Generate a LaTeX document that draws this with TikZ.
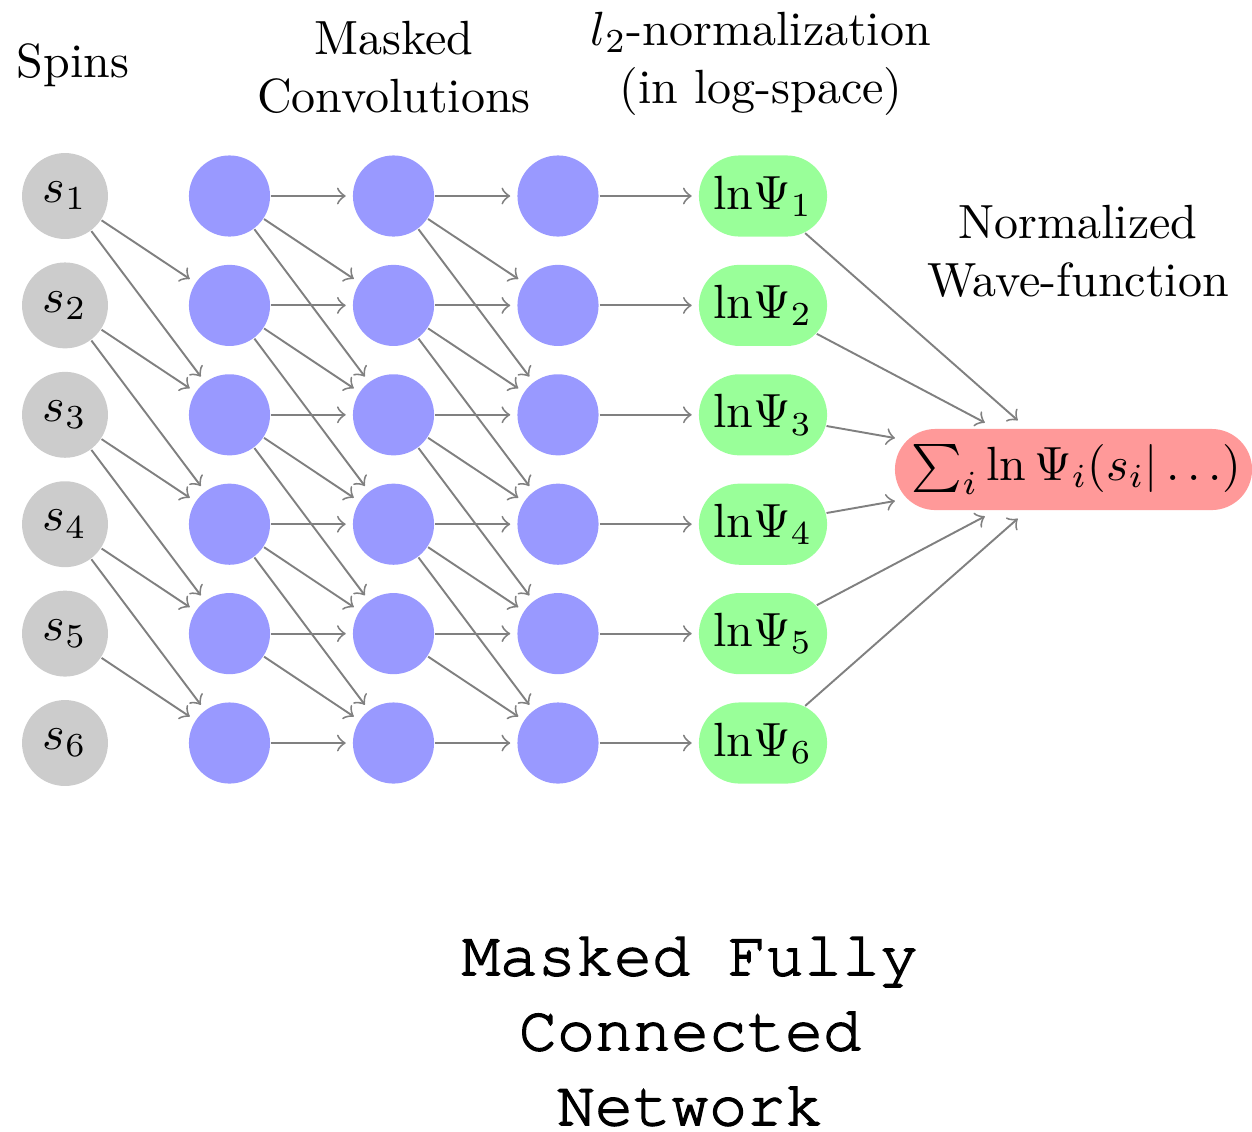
\documentclass[tikz,border=0pt]{standalone}
\usepackage[T1]{fontenc}
\usepackage{fontspec}
\usetikzlibrary{shapes.misc}
\definecolor{spingray}{HTML}{CCCCCC}
\definecolor{hidblue}{HTML}{9999FF}
\definecolor{normgreen}{HTML}{99FF99}
\definecolor{sumred}{HTML}{FF9999}
\newcommand{\courierface}{\fontencoding{T1}\fontfamily{pcr}\fontseries{m}\fontshape{n}\fontsize{13.2}{15.6}\selectfont}
% slightly heavier glyphs: fill and stroke the outlines
\newcommand{\heavyon}{\special{pdf:literal direct 0 0 0 RG 0.3 w 2 Tr}}
\newcommand{\heavyoff}{\special{pdf:literal direct 0 Tr}}
\begin{document}
\begin{tikzpicture}[x=0.208333pt,y=-0.208333pt,
  spin/.style={circle,fill=spingray,minimum size=17.9pt,inner sep=0pt},
  hidden/.style={circle,fill=hidblue,minimum size=16.9pt,inner sep=0pt},
  lognode/.style={rounded rectangle,fill=normgreen,minimum width=26.7pt,minimum height=16.9pt,inner sep=0pt},
  sumnode/.style={rounded rectangle,fill=sumred,minimum width=74.4pt,minimum height=16.9pt,inner sep=0pt},
  conn/.style={->,gray,shorten >=1.3pt},
  outconn/.style={->,gray,shorten >=2.4pt},
  caption/.style={align=center,inner sep=0pt,anchor=base}
]
\useasboundingbox (0,0) rectangle (1252,1131);

% layers: spins, three masked layers, per-site log amplitudes
\foreach \i in {1,...,6} {
  \pgfmathsetmacro\yy{196+109.4*(\i-1)}
  \node[spin] (s\i) at (65,\yy) {$s_{\i}$};
  \node[hidden] (a\i) at (229.5,\yy) {};
  \node[hidden] (b\i) at (393.5,\yy) {};
  \node[hidden] (c\i) at (558,\yy) {};
  \node[lognode] (g\i) at (763,\yy) {\makebox[0pt]{$\mathrm{ln}\Psi_{\i}$}};
}
\node[sumnode] (sum) at (1073.5,469.5) {\makebox[0pt]{\hspace{1.2pt}$\sum_i \ln\Psi_i(s_i|\ldots)$}};

% straight connections and outputs
\foreach \i in {1,...,6} {
  \draw[conn] (a\i) -- (b\i);
  \draw[conn] (b\i) -- (c\i);
  \draw[conn] (c\i) -- (g\i);
  \draw[outconn] (g\i) -- (sum);
}
% masked connections to the next two sites
\foreach \i/\j in {1/2,1/3,2/3,2/4,3/4,3/5,4/5,4/6,5/6} {
  \draw[conn] (s\i) -- (a\j);
  \draw[conn] (a\i) -- (b\j);
  \draw[conn] (b\i) -- (c\j);
}

% captions
\node[caption] (tspins) at (73,77) {Spins};
\node[caption] (tconv) at (394,112) {Masked\\Convolutions};
\node[caption] (tnorm) at (761,103) {$l_2$-normalization\\(in log-space)};
\node[caption] (twave) at (1078,296) {Normalized\\Wave-function};
\node[caption,font=\courierface] (ttitle) at (690,1125) {\heavyon Masked Fully\\Connected\\Network\heavyoff};
\end{tikzpicture}
\end{document}
